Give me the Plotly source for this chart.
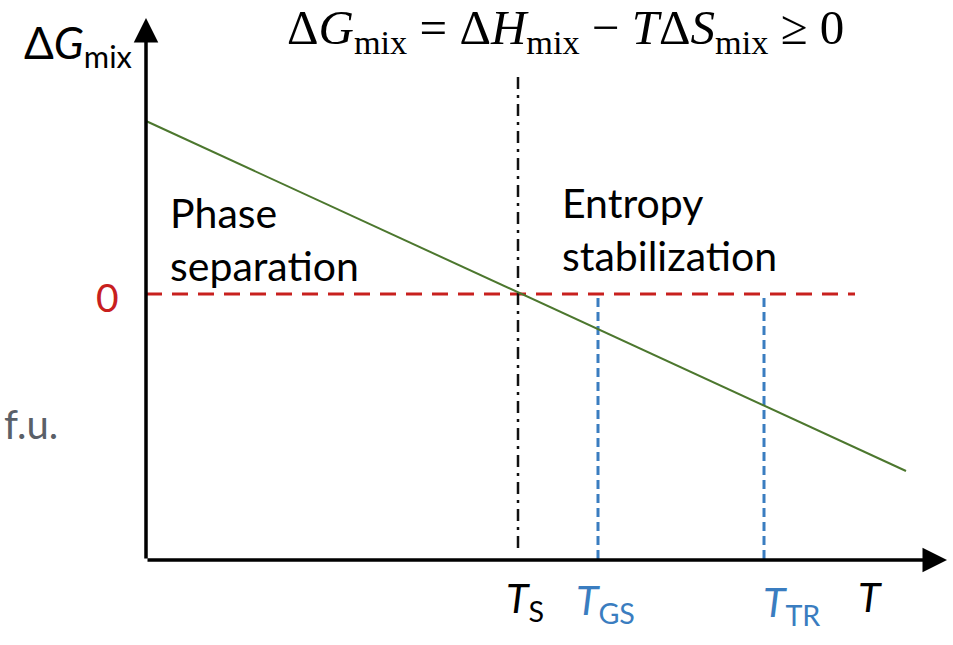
import plotly.graph_objects as go

# Temperature positions (arbitrary units) of the marked points
t_labels = ["T_S", "T_GS", "T_TR"]
t_values = [3.72, 4.52, 6.18]

# Free energy of mixing along the T axis (arbitrary units)
line_t = [0.0, 7.60]
line_dg = [1.73, -1.77]
dg_at_marks = [0.0, -0.37, -1.13]

# Axis extents
t_axis_end = 8.01
dg_axis_bottom = -2.66
dg_axis_top = 2.76
zero_line_end = 7.09

FONT = "Lato"
GREEN = "#4c772e"
RED = "#c8201e"
BLUE = "#3a7dc0"
GRAY = "#5a6068"

fig = go.Figure()

# zero reference line
fig.add_trace(go.Scatter(x=[0, zero_line_end], y=[0, 0], mode="lines",
                         line=dict(color=RED, width=3, dash="16px,10px"),
                         hoverinfo="skip"))

# T_S: dash-dot divider
fig.add_trace(go.Scatter(x=[t_values[0], t_values[0]], y=[-2.54, 2.19], mode="lines",
                         line=dict(color="#111111", width=2.5, dash="12px,6px,3px,6px"),
                         hoverinfo="skip"))

# T_GS and T_TR: blue dashed drop lines
for tv in t_values[1:]:
    fig.add_trace(go.Scatter(x=[tv, tv], y=[-0.04, dg_axis_bottom], mode="lines",
                             line=dict(color=BLUE, width=3, dash="9px,5px"),
                             hoverinfo="skip"))

# ΔG_mix(T)
fig.add_trace(go.Scatter(x=line_t, y=line_dg, mode="lines",
                         line=dict(color=GREEN, width=2), hoverinfo="skip"))

annotations = []

# axes with arrow heads
annotations.append(dict(x=t_axis_end, y=dg_axis_bottom, ax=0, ay=dg_axis_bottom,
                        xref="x", yref="y", axref="x", ayref="y", text="",
                        showarrow=True, arrowhead=2, arrowsize=1.4, arrowwidth=3.5,
                        arrowcolor="black"))
annotations.append(dict(x=0, y=dg_axis_top, ax=0, ay=dg_axis_bottom,
                        xref="x", yref="y", axref="x", ayref="y", text="",
                        showarrow=True, arrowhead=2, arrowsize=1.4, arrowwidth=3.5,
                        arrowcolor="black"))

def txt(x, y, text, size=38, color="black", xanchor="center", yanchor="middle",
        family=FONT, align="left"):
    annotations.append(dict(x=x, y=y, xref="x", yref="y", text=text, showarrow=False,
                            xanchor=xanchor, yanchor=yanchor, align=align,
                            font=dict(family=family, size=size, color=color)))

# title equation
txt(4.19, 2.64,
    "Δ<i>G</i><sub>mix</sub> = Δ<i>H</i><sub>mix</sub> − <i>T</i>Δ<i>S</i><sub>mix</sub> ≥ 0",
    size=49, family="Liberation Serif")

# y-axis label and zero
txt(-1.24, 2.49, "Δ<i>G</i><sub>mix</sub>", size=44, xanchor="left")
txt(-0.39, -0.03, "0", size=39, color=RED)
txt(-0.86, -1.30, "f.u.", size=40, color=GRAY, xanchor="right")

# region labels
txt(0.22, 1.08, "Phase<br>separation", size=41, xanchor="left", yanchor="top")
txt(4.14, 1.18, "Entropy<br>stabilization", size=41, xanchor="left", yanchor="top")

# temperature labels
txt(t_values[0] + 0.07, -3.06, "<i>T</i><sub>S</sub>", size=41)
txt(t_values[1] + 0.07, -3.08, "<i>T</i><sub>GS</sub>", size=41, color=BLUE)
txt(t_values[2] + 0.27, -3.10, "<i>T</i><sub>TR</sub>", size=41, color=BLUE)
txt(7.24, -3.02, "<i>T</i>", size=41)

fig.update_layout(
    width=953, height=645,
    margin=dict(l=0, r=0, t=0, b=0),
    paper_bgcolor="white", plot_bgcolor="white",
    showlegend=False,
    xaxis=dict(range=[-1.46, 8.07], visible=False, fixedrange=True),
    yaxis=dict(range=[-3.51, 2.94], visible=False, fixedrange=True),
    annotations=annotations,
)

fig.write_html("out.html")
